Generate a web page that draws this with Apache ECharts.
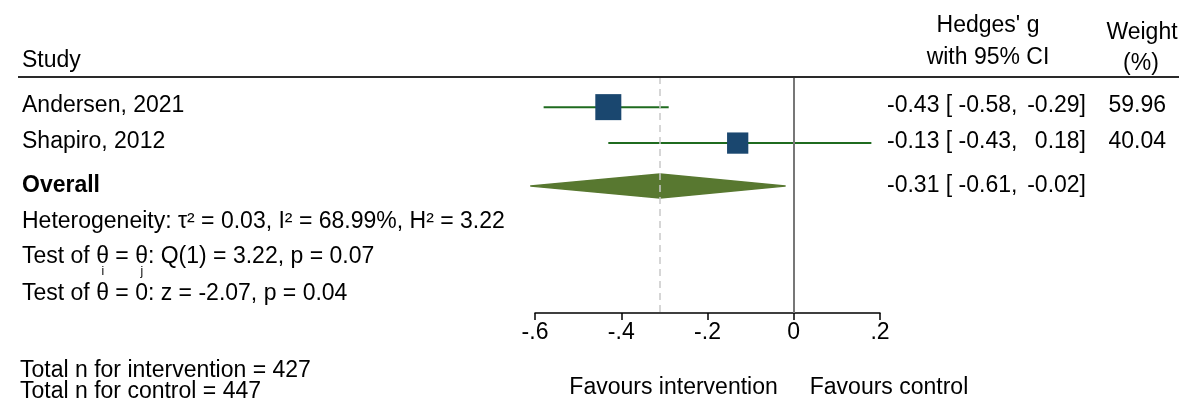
<!DOCTYPE html>
<html><head><meta charset="utf-8">
<script src="https://cdn.jsdelivr.net/npm/echarts@6/dist/echarts.min.js"></script>
<style>html,body{margin:0;padding:0;background:#fff}#c{width:1179px;height:401px}</style>
</head><body><div id="c"></div>
<script>
// ---- data ----
const studies = ["Andersen, 2021", "Shapiro, 2012"];
const effects = [-0.43, -0.13];
const ciLow = [-0.58, -0.43];
const ciHigh = [-0.29, 0.18];
const weights = [59.96, 40.04];
const overallLabel = "Overall";
const overallEffect = [-0.31];
const overallLow = [-0.61];
const overallHigh = [-0.02];
const xTicks = [-0.6, -0.4, -0.2, 0, 0.2];
const heterogeneityText = "Heterogeneity: τ² = 0.03, I² = 68.99%, H² = 3.22";
const homogParts = ["Test of θ", "i", " = θ", "j", ": Q(1) = 3.22, p = 0.07"];
const zeroTestText = "Test of θ = 0: z = -2.07, p = 0.04";
const totalsText = ["Total n for intervention = 427", "Total n for control = 447"];
const favours = ["Favours intervention", "Favours control"];

// ---- layout ----
const FONT = '"Liberation Sans", Arial, Helvetica, sans-serif';
const FS = 23;
const rowPos = [0.83, 1.82, 3.0, 3.92, 4.9, 5.9];

const chart = echarts.init(document.getElementById('c'));

function fmtTick(v) {
  if (Math.abs(v) < 1e-9) return '0';
  const s = Math.abs(v).toFixed(1).replace(/^0/, '');
  return (v < 0 ? '-' : '') + s;
}

const ciData = studies.map((s, i) => [ciLow[i], ciHigh[i], rowPos[i]]);
const sqData = studies.map((s, i) => [effects[i], rowPos[i], weights[i]]);
const diaData = overallEffect.map((e, i) => [overallLow[i], e, overallHigh[i], rowPos[2]]);

chart.setOption({
  animation: false,
  grid: { left: 535, right: 299, top: 77, bottom: 88 },
  xAxis: {
    type: 'value', min: xTicks[0], max: xTicks[xTicks.length - 1], interval: 0.2,
    axisLine: { show: true, onZero: false, lineStyle: { color: '#000', width: 1.5 } },
    axisTick: { show: true, length: 7, lineStyle: { color: '#000', width: 1.5 } },
    axisLabel: { fontSize: FS, color: '#000', fontFamily: FONT, margin: 8, formatter: fmtTick },
    splitLine: { show: false }
  },
  yAxis: { type: 'value', min: 0, max: 6.5, inverse: true, show: false },
  series: [
    {
      type: 'custom', z: 3,
      data: ciData,
      encode: { x: [0, 1], y: 2 },
      renderItem: function (params, api) {
        const y = api.value(2);
        const p1 = api.coord([api.value(0), y]);
        const p2 = api.coord([api.value(1), y]);
        return { type: 'line', shape: { x1: p1[0], y1: p1[1], x2: p2[0], y2: p2[1] },
          style: { stroke: '#1f6b1f', lineWidth: 2 } };
      },
      markLine: {
        silent: true, symbol: ['none', 'none'], label: { show: false },
        data: [
          { xAxis: overallEffect[0], lineStyle: { color: '#c9c9c9', width: 1.5, type: [7, 5] } },
          { xAxis: 0, lineStyle: { color: '#777777', width: 2, type: 'solid' } }
        ]
      }
    },
    {
      type: 'scatter', z: 4,
      data: sqData,
      symbol: 'rect',
      symbolSize: v => 3.36 * Math.sqrt(v[2]),
      itemStyle: { color: '#1a476f', opacity: 1 }
    },
    {
      type: 'custom', z: 4,
      data: diaData,
      encode: { x: [0, 1, 2], y: 3 },
      renderItem: function (params, api) {
        const y = api.value(3);
        const l = api.coord([api.value(0), y]);
        const c = api.coord([api.value(1), y]);
        const r = api.coord([api.value(2), y]);
        const h = 12;
        return { type: 'polygon',
          shape: { points: [[l[0], l[1]], [c[0], c[1] - h], [r[0], r[1]], [c[0], c[1] + h]] },
          style: { fill: '#587830', stroke: '#587830', lineWidth: 1.5, lineJoin: 'round' } };
      }
    }
  ]
});

const yPix = v => chart.convertToPixel({ yAxisIndex: 0 }, v);
const xPix = v => chart.convertToPixel({ xAxisIndex: 0 }, v);
const font = (w) => (w ? 'bold ' : '') + FS + 'px ' + FONT;
function txt(text, x, y, align, opts) {
  opts = opts || {};
  const f = opts.font || font(opts.bold);
  return { type: 'text', x: x, y: y, z: 10, silent: true,
    style: { text: text, font: f, fill: '#000', align: align, textAlign: align,
      verticalAlign: 'middle', textVerticalAlign: 'middle' } };
}
const ctx = document.createElement('canvas').getContext('2d');
ctx.font = font(false);
const meas = s => ctx.measureText(s).width;

const g = [];
// header
g.push(txt('Study', 22, 61, 'left'));
g.push(txt("Hedges' g", 988, 26, 'center'));
g.push(txt('with 95% CI', 988, 58, 'center'));
g.push(txt('Weight', 1142, 33, 'center'));
g.push(txt('(%)', 1141, 64, 'center'));
g.push({ type: 'line', z: 10, silent: true, shape: { x1: 18, y1: 77, x2: 1179, y2: 77 },
  style: { stroke: '#2a2a2a', lineWidth: 2 } });

// study rows
studies.forEach((s, i) => {
  const y = yPix(rowPos[i]) - 1;
  g.push(txt(s, 22, y, 'left'));
  g.push(txt(effects[i].toFixed(2) + ' [ ' + ciLow[i].toFixed(2) + ',', 887, y, 'left'));
  g.push(txt(ciHigh[i].toFixed(2) + ']', 1086, y, 'right'));
  g.push(txt(weights[i].toFixed(2), 1166, y, 'right'));
});
// overall
{
  const y = yPix(rowPos[2]);
  g.push(txt(overallLabel, 22, y, 'left', { bold: true }));
  g.push(txt(overallEffect[0].toFixed(2) + ' [ ' + overallLow[0].toFixed(2) + ',', 887, y, 'left'));
  g.push(txt(overallHigh[0].toFixed(2) + ']', 1086, y, 'right'));
}
// stats lines
g.push(txt(heterogeneityText, 22, yPix(rowPos[3]) + 2, 'left'));
{
  const y = yPix(rowPos[4]) + 2;
  const main = homogParts[0] + homogParts[2] + homogParts[4];
  g.push(txt(main, 22, y, 'left'));
  const subFont = '12px ' + FONT;
  const xi = 22 + meas(homogParts[0]) - 6;
  const xj = 22 + meas(homogParts[0] + homogParts[2]) - 6;
  g.push(txt(homogParts[1], xi, y + 15, 'center', { font: subFont }));
  g.push(txt(homogParts[3], xj, y + 15, 'center', { font: subFont }));
}
g.push(txt(zeroTestText, 22, yPix(rowPos[5]) + 2, 'left'));

// favours
const x0 = xPix(0);
g.push(txt(favours[0], x0 - 16, 388, 'right'));
g.push(txt(favours[1], x0 + 16, 388, 'left'));
// totals
g.push(txt(totalsText[0], 20, 371, 'left'));
g.push(txt(totalsText[1], 20, 392, 'left'));

chart.setOption({ graphic: g });
</script>
</body></html>
